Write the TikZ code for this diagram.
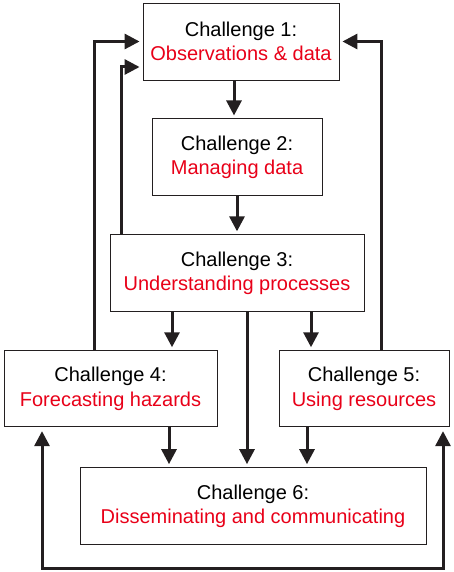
\documentclass[tikz,border=0pt]{standalone}
\usepackage{fontspec}
\setmainfont{Liberation Sans}
\usetikzlibrary{arrows.meta,positioning}
\definecolor{chred}{RGB}{232,0,24}
\definecolor{chblack}{RGB}{35,31,32}
\tikzset{
  box/.style={draw=chblack, line width=0.9pt, minimum height=77pt, align=center,
    inner sep=2pt, font=\fontsize{20}{24.5}\selectfont},
  link/.style={->, line width=3pt, draw=chblack, shorten >=3pt}
}
\begin{document}
\begin{tikzpicture}[x=1pt,y=-1pt,>={Triangle[width=15pt,length=15pt]}]
			\useasboundingbox (0,0) rectangle (454,572);

			\node[box, minimum width=196pt] (c1) at (241,41.5) {Challenge 1:\\\textcolor{chred}{Observations \& data}};
			\node[box, minimum width=170pt, below=38pt of c1, xshift=-4pt] (c2) {Challenge 2:\\\textcolor{chred}{Managing data}};
			\node[box, minimum width=254pt, below=38pt of c2] (c3) {Challenge 3:\\\textcolor{chred}{Understanding processes}};
			\node[box, minimum width=213pt, minimum height=76pt, below=38pt of c3, xshift=-126.5pt] (c4) {Challenge 4:\\\textcolor{chred}{Forecasting hazards}};
			\node[box, minimum width=170pt, minimum height=76pt, below=38pt of c3, xshift=127pt] (c5) {Challenge 5:\\\textcolor{chred}{Using resources}};
			\node[box, minimum width=346pt, below=40pt of c4, xshift=142.5pt] (c6) {Challenge 6:\\\textcolor{chred}{Disseminating and communicating}};

			% downward flow
			\draw[link] ([xshift=-3pt]c2.north |- c1.south) -- ([xshift=-3pt]c2.north);
			\draw[link] (c2.south) -- (c2.south |- c3.north);
			\draw[link] ([xshift=61.5pt]c4.north |- c3.south) -- ([xshift=61.5pt]c4.north);
			\draw[link] ([xshift=-53pt]c5.north |- c3.south) -- ([xshift=-53pt]c5.north);
			\draw[link] ([xshift=-6pt]c6.north |- c3.south) -- ([xshift=-6pt]c6.north);
			\draw[link] ([xshift=58.5pt]c4.south) -- ([xshift=58.5pt]c4.south |- c6.north);
			\draw[link] ([xshift=-57pt]c5.south) -- ([xshift=-57pt]c5.south |- c6.north);

			% feedback to challenge 1
			\draw[link] ([xshift=-16.5pt]c4.north) |- (c1.west);
			\draw[link] ([xshift=-116pt]c3.north) |- ([yshift=-25.5pt]c1.west);
			\draw[link] ([xshift=17pt]c5.north) |- (c1.east);

			% loop under challenge 6
			\coordinate (loop) at ([yshift=-23pt]c6.south);
			\draw[link, <->, shorten <=4pt, shorten >=4pt] ([xshift=-68.5pt]c4.south) |- (loop) -| ([xshift=79pt]c5.south);
		\end{tikzpicture}
\end{document}
